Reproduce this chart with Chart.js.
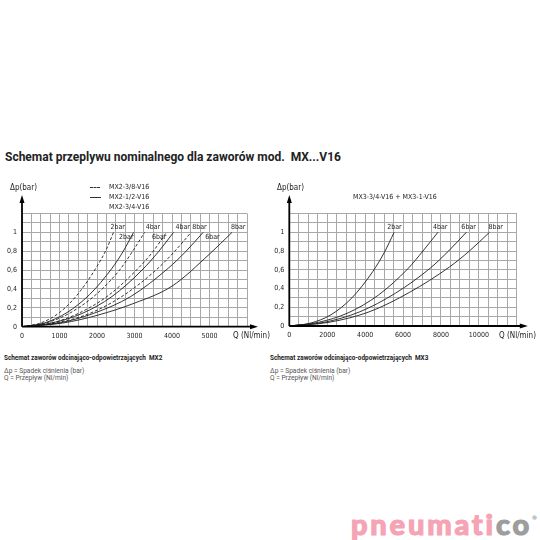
<!DOCTYPE html>
<html><head><meta charset="utf-8">
<script src="https://cdn.jsdelivr.net/npm/chart.js@4"></script>
<style>
html,body{margin:0;padding:0;background:#fff;width:540px;height:540px;overflow:hidden;position:relative;font-family:Roboto,'Noto Sans',sans-serif;}
.abs{position:absolute;white-space:nowrap;}
.tech{font-family:'Liberation Sans Narrow','DejaVu Sans Condensed',sans-serif;font-size:7px;color:#222;line-height:1;}
.tech8{font-size:8px;}
#title{left:5px;top:150px;font-weight:700;font-size:12px;color:#222;}
.cap{font-weight:700;font-size:6.4px;color:#222;}
.cap2{font-weight:400;font-size:6.6px;color:#555;line-height:7px;}
#logo{left:351px;top:509px;font-family:Lato,'Open Sans',sans-serif;font-weight:900;font-size:29px;letter-spacing:2.8px;color:#f5a3b5;line-height:1;-webkit-text-stroke:1.1px #f5a3b5;}
#logo span.g{color:#9d9d9d;-webkit-text-stroke:1.1px #9d9d9d;}
#logo sup{font-size:6px;color:#9d9d9d;vertical-align:15px;letter-spacing:0;-webkit-text-stroke:0;}
.dash{position:absolute;height:0;border-top:1px dashed #333;width:10px;}
.solid{position:absolute;height:0;border-top:1px solid #333;width:11px;}
canvas{position:absolute;}
</style></head>
<body>
<div id="title" class="abs">Schemat przeplywu nominalnego dla zaworów mod.&nbsp; MX...V16</div>

<canvas id="c1" width="270" height="170" style="left:0;top:180px"></canvas>
<canvas id="c2" width="270" height="170" style="left:270px;top:180px"></canvas>

<div class="abs tech tech8" style="left:10px;top:184px">Δp(bar)</div>
<div class="abs tech tech8" style="left:277px;top:184px">Δp(bar)</div>
<div class="abs tech tech8" style="left:233px;top:332px">Q (Nl/min)</div>
<div class="abs tech tech8" style="left:499px;top:332px">Q (Nl/min)</div>
<div class="abs tech" style="left:353px;top:194px">MX3-3/4-V16 + MX3-1-V16</div>

<div class="dash" style="left:90px;top:187px"></div>
<div class="abs tech" style="left:109px;top:184px">MX2-3/8-V16</div>
<div class="solid" style="left:90px;top:197px"></div>
<div class="abs tech" style="left:109px;top:194px">MX2-1/2-V16</div>
<div class="abs tech" style="left:109px;top:204px">MX2-3/4-V16</div>

<div class="abs cap" style="left:4px;top:354px">Schemat zaworów odcinająco-odpowietrzających&nbsp; MX2</div>
<div class="abs cap2" style="left:4px;top:368px">Δp = Spadek ciśnienia (bar)<br>Q = Przepływ (Nl/min)</div>
<div class="abs cap" style="left:270px;top:354px">Schemat zaworów odcinająco-odpowietrzających&nbsp; MX3</div>
<div class="abs cap2" style="left:270px;top:368px">Δp = Spadek ciśnienia (bar)<br>Q = Przepływ (Nl/min)</div>

<div id="logo" class="abs">pneumati<span class="g">co</span><sup>®</sup></div>

<script>
// ---------- DATA ----------
const PRESSURES = ['2bar', '4bar', '6bar', '8bar'];
const Y_TICKS = [0, 0.2, 0.4, 0.6, 0.8, 1];
const MX2_X_TICKS = [0, 1000, 2000, 3000, 4000, 5000];
const MX3_X_TICKS = [0, 2000, 4000, 6000, 8000, 10000];

// MX2-3/8-V16 (dashed)
const MX2_38_2BAR_Q  = [0, 500, 1000, 1500, 2000, 2250, 2440];
const MX2_38_2BAR_DP = [0, 0.04, 0.15, 0.35, 0.64, 0.82, 1.0];
const MX2_38_4BAR_Q  = [0, 650, 1300, 2000, 2600, 2950, 3270];
const MX2_38_4BAR_DP = [0, 0.04, 0.15, 0.35, 0.60, 0.80, 1.0];
const MX2_38_6BAR_Q  = [0, 800, 1550, 2300, 3100, 3500, 3850];
const MX2_38_6BAR_DP = [0, 0.04, 0.15, 0.33, 0.62, 0.80, 1.0];
const MX2_38_8BAR_Q  = [0, 900, 1800, 2700, 3600, 4050, 4510];
const MX2_38_8BAR_DP = [0, 0.04, 0.14, 0.33, 0.61, 0.79, 1.0];
// MX2-1/2-V16 / MX2-3/4-V16 (solid)
const MX2_12_2BAR_Q  = [0, 600, 1200, 1800, 2400, 2700, 2975];
const MX2_12_2BAR_DP = [0, 0.04, 0.15, 0.34, 0.62, 0.80, 1.0];
const MX2_12_4BAR_Q  = [0, 800, 1600, 2400, 3200, 3650, 4040];
const MX2_12_4BAR_DP = [0, 0.04, 0.14, 0.32, 0.60, 0.80, 1.0];
const MX2_12_6BAR_Q  = [0, 1000, 1900, 2900, 3900, 4350, 4830];
const MX2_12_6BAR_DP = [0, 0.04, 0.14, 0.32, 0.62, 0.79, 1.0];
const MX2_12_8BAR_Q  = [0, 1100, 2000, 3000, 4000, 5000, 5600];
const MX2_12_8BAR_DP = [0, 0.04, 0.12, 0.25, 0.43, 0.77, 1.0];

// MX3-3/4-V16 + MX3-1-V16
const MX3_2BAR_Q  = [0, 1100, 2200, 3300, 4400, 5000, 5530];
const MX3_2BAR_DP = [0, 0.03, 0.12, 0.30, 0.58, 0.78, 1.0];
const MX3_4BAR_Q  = [0, 1550, 3100, 4700, 6250, 7050, 7840];
const MX3_4BAR_DP = [0, 0.04, 0.14, 0.33, 0.61, 0.80, 1.0];
const MX3_6BAR_Q  = [0, 1850, 3700, 5600, 7450, 8400, 9340];
const MX3_6BAR_DP = [0, 0.04, 0.15, 0.35, 0.62, 0.80, 1.0];
const MX3_8BAR_Q  = [0, 2100, 4200, 6350, 8450, 9500, 10560];
const MX3_8BAR_DP = [0, 0.04, 0.15, 0.36, 0.63, 0.80, 1.0];

// ---------- STYLE ----------
const TECH_FONT = "'Liberation Sans Narrow','DejaVu Sans Condensed',sans-serif";
const GRID = '#a8a8a8';
const INK = '#1e1e1e';

function pts(q, dp) { return q.map((x, i) => ({ x, y: dp[i] })); }
function ds(q, dp, label, dashed, lbl) {
  return {
    label, data: pts(q, dp), borderColor: INK, borderWidth: 0.9,
    borderDash: dashed ? [3, 2] : [], pointRadius: 0, fill: false,
    cubicInterpolationMode: 'monotone', curveLabel: lbl
  };
}

const curveLabels = {
  id: 'curveLabels',
  afterDatasetsDraw(chart) {
    const ctx = chart.ctx;
    ctx.save();
    ctx.font = '7px ' + TECH_FONT;
    ctx.fillStyle = INK;
    ctx.textBaseline = 'middle';
    chart.data.datasets.forEach((d, i) => {
      const meta = chart.getDatasetMeta(i);
      const p = meta.data[meta.data.length - 1];
      const L = d.curveLabel;
      ctx.textAlign = L.align || 'left';
      ctx.fillText(d.label, p.x + L.dx, p.y + L.dy);
    });
    ctx.restore();
  }
};

const axisArrows = {
  id: 'axisArrows',
  afterDraw(chart) {
    const { ctx, chartArea: a } = chart;
    const o = chart.options.plugins.axisArrows;
    ctx.save();
    ctx.strokeStyle = '#000'; ctx.fillStyle = '#000'; ctx.lineWidth = 1.8;
    const yTop = a.top - o.up, xEnd = a.right + o.right;
    ctx.beginPath();
    ctx.moveTo(a.left, a.bottom); ctx.lineTo(a.left, yTop + 4);
    ctx.moveTo(a.left, a.bottom); ctx.lineTo(xEnd - 4, a.bottom);
    ctx.stroke();
    ctx.beginPath();
    ctx.moveTo(a.left, yTop); ctx.lineTo(a.left - 2.5, yTop + 8); ctx.lineTo(a.left + 2.5, yTop + 8); ctx.closePath();
    ctx.fill();
    ctx.beginPath();
    ctx.moveTo(xEnd, a.bottom); ctx.lineTo(xEnd - 8, a.bottom - 2.5); ctx.lineTo(xEnd - 8, a.bottom + 2.5); ctx.closePath();
    ctx.fill();
    ctx.restore();
  }
};

function yScale(width) {
  return {
    min: 0, max: 1.2,
    afterFit: s => { s.width = width; },
    afterBuildTicks: s => { s.ticks = Array.from({ length: 13 }, (_, i) => ({ value: i / 10 })); },
    ticks: {
      autoSkip: false, padding: 5, color: INK, font: { size: 7, family: TECH_FONT },
      callback: v => {
        const t = Math.round(v * 10) / 10;
        const hit = Y_TICKS.find(y => Math.abs(y - t) < 1e-6);
        return hit === undefined ? '' : String(hit).replace('.', ',');
      }
    },
    grid: { color: GRID, lineWidth: 1, drawTicks: false },
    border: { display: false }
  };
}

function xScale(max, step, labels) {
  return {
    type: 'linear', min: 0, max,
    afterFit: s => { s.height = 14; },
    afterBuildTicks: s => { s.ticks = Array.from({ length: Math.round(max / step) + 1 }, (_, i) => ({ value: i * step })); },
    ticks: {
      autoSkip: false, maxRotation: 0, padding: 5, color: INK, font: { size: 7, family: TECH_FONT },
      callback: v => labels.includes(v) ? String(v) : ''
    },
    grid: { color: GRID, lineWidth: 1, drawTicks: false },
    border: { display: false }
  };
}

function baseOptions(xs, ys, pad, arrows) {
  return {
    responsive: false, animation: false, devicePixelRatio: 1,
    layout: { padding: pad },
    plugins: { legend: { display: false }, tooltip: { enabled: false }, axisArrows: arrows },
    scales: { x: xs, y: ys }
  };
}

// ---------- MX2 chart ----------
new Chart(document.getElementById('c1'), {
  type: 'line',
  data: {
    datasets: [
      ds(MX2_38_2BAR_Q, MX2_38_2BAR_DP, PRESSURES[0], true,  { dx: -3, dy: -5 }),
      ds(MX2_12_2BAR_Q, MX2_12_2BAR_DP, PRESSURES[0], false, { dx: 0, dy: 5, align: 'right' }),
      ds(MX2_38_4BAR_Q, MX2_38_4BAR_DP, PRESSURES[1], true,  { dx: 1, dy: -5 }),
      ds(MX2_38_6BAR_Q, MX2_38_6BAR_DP, PRESSURES[2], true,  { dx: 0, dy: 5, align: 'right' }),
      ds(MX2_12_4BAR_Q, MX2_12_4BAR_DP, PRESSURES[1], false, { dx: 2, dy: -5 }),
      ds(MX2_38_8BAR_Q, MX2_38_8BAR_DP, PRESSURES[3], true,  { dx: 1, dy: -5 }),
      ds(MX2_12_6BAR_Q, MX2_12_6BAR_DP, PRESSURES[2], false, { dx: 2, dy: 5 }),
      ds(MX2_12_8BAR_Q, MX2_12_8BAR_DP, PRESSURES[3], false, { dx: -1, dy: -5 })
    ]
  },
  options: baseOptions(xScale(6000, 250, MX2_X_TICKS), yScale(22),
    { left: 0, top: 33.5, right: 23, bottom: 9.3 }, { up: 18.5, right: 11 }),
  plugins: [curveLabels, axisArrows]
});

// ---------- MX3 chart ----------
new Chart(document.getElementById('c2'), {
  type: 'line',
  data: {
    datasets: [
      ds(MX3_2BAR_Q, MX3_2BAR_DP, PRESSURES[0], false, { dx: -7, dy: -5 }),
      ds(MX3_4BAR_Q, MX3_4BAR_DP, PRESSURES[1], false, { dx: -5, dy: -5 }),
      ds(MX3_6BAR_Q, MX3_6BAR_DP, PRESSURES[2], false, { dx: -5, dy: -5 }),
      ds(MX3_8BAR_Q, MX3_8BAR_DP, PRESSURES[3], false, { dx: -1, dy: -5 })
    ]
  },
  options: baseOptions(xScale(12000, 500, MX3_X_TICKS), yScale(19.3),
    { left: 0, top: 33.5, right: 23.2, bottom: 10 }, { up: 18.5, right: 11 }),
  plugins: [curveLabels, axisArrows]
});
</script>
</body></html>
